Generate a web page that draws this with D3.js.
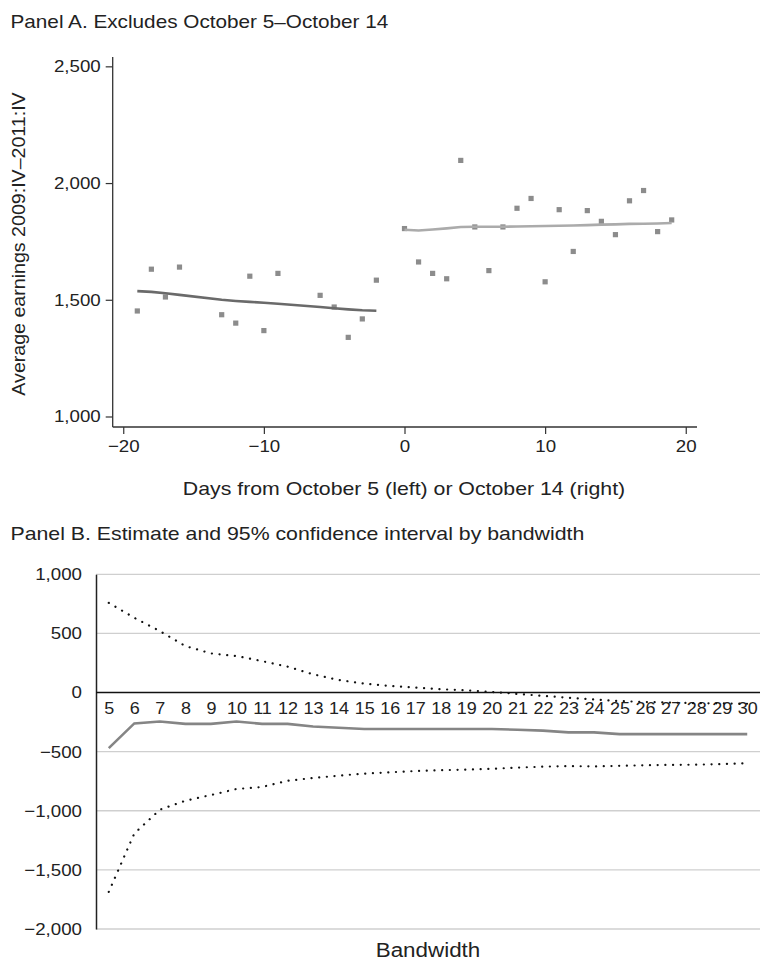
<!DOCTYPE html>
<html><head><meta charset="utf-8">
<script src="https://cdn.jsdelivr.net/npm/d3@7"></script>
<style>
body{margin:0;background:#fff;}
svg{display:block;font-family:"Liberation Sans",Arial,Helvetica,sans-serif;}
</style></head>
<body><svg id="c" width="765" height="973"></svg>
<script>
// ---- Panel A data ----
const leftDays = [-19,-18,-17,-16,-13,-12,-11,-10,-9,-6,-5,-4,-3,-2];
const leftEarnings = [1452,1631,1512,1640,1436,1400,1601,1368,1613,1519,1469,1339,1418,1584];
const leftFit = [1537,1534,1528,1521,1500,1495,1491,1487,1483,1469,1464,1459,1455,1453];
const rightDays = [0,1,2,3,4,5,6,7,8,9,10,11,12,13,14,15,16,17,18,19];
const rightEarnings = [1805,1662,1613,1590,2097,1812,1625,1812,1892,1934,1577,1886,1707,1882,1836,1779,1924,1968,1792,1842];
const rightFit = [1800,1797,1801,1806,1812,1813,1813,1813,1814,1815,1816,1817,1818,1820,1822,1823,1825,1826,1827,1829];
const panelAYTicks = [1000,1500,2000,2500];
const panelAXTicks = [-20,-10,0,10,20];

// ---- Panel B data ----
const bandwidths = [5,6,7,8,9,10,11,12,13,14,15,16,17,18,19,20,21,22,23,24,25,26,27,28,29,30];
const estimate = [-470,-261,-245,-265,-265,-245,-265,-265,-287,-298,-309,-309,-309,-309,-309,-309,-315,-322,-337,-337,-352,-352,-352,-352,-352,-352];
const upperCI = [759,632,520,393,331,309,266,219,154,106,76,56,42,28,19,5,-12,-28,-44,-58,-72,-80,-85,-90,-92,-95];
const lowerCI = [-1686,-1192,-991,-915,-867,-816,-799,-746,-723,-703,-686,-675,-664,-657,-652,-645,-635,-627,-622,-625,-620,-615,-612,-610,-605,-598];
const panelBYTicks = [-2000,-1500,-1000,-500,0,500,1000];

const fmt = v => (v<0?"\u2212":"") + d3.format(",")(Math.abs(v));
const svg = d3.select("#c");
const txt = "#222";
const FONT = "Liberation Sans,Arial,Helvetica,sans-serif";

// widen glyphs horizontally (reference face is wider than Arial)
function stretch(sel,k){
  sel.each(function(){
    const w = this.getComputedTextLength();
    this.setAttribute("textLength", (w*k).toFixed(2));
    this.setAttribute("lengthAdjust","spacingAndGlyphs");
  });
}

// ================= Panel A =================
svg.append("text").attr("x",10.5).attr("y",28).attr("font-size",18.5).attr("fill",txt)
  .text("Panel A. Excludes October 5\u2013October 14").call(stretch,1.12);

const xA = d3.scaleLinear().domain([-20.75,20.8]).range([112.7,697]);
const yA = d3.scaleLinear().domain([955,2540]).range([427,57]);

const gA = svg.append("g");
const axA = gA.append("g").attr("transform","translate(112.7,0)")
  .call(d3.axisLeft(yA).tickValues(panelAYTicks).tickFormat(fmt).tickSize(7).tickPadding(5));
const axAx = gA.append("g").attr("transform","translate(0,427)")
  .call(d3.axisBottom(xA).tickValues(panelAXTicks).tickFormat(fmt).tickSize(7).tickPadding(6));
[axA,axAx].forEach(a=>{
  a.select(".domain").attr("stroke","#333").attr("stroke-width",1.3);
  a.selectAll(".tick line").attr("stroke","#333").attr("stroke-width",1.2);
  a.selectAll("text").attr("font-size",17).attr("fill",txt).attr("font-family",FONT).call(stretch,1.1);
});
axA.select(".domain").attr("d",`M0,${yA.range()[1]}V${yA.range()[0]}`);
axAx.select(".domain").attr("d",`M${xA.range()[0]},0H${xA.range()[1]}`);

gA.append("text").attr("transform","translate(25,244) rotate(-90)").attr("text-anchor","middle")
  .attr("font-size",17.5).attr("fill",txt).text("Average earnings 2009:IV\u20132011:IV").call(stretch,1.12);
gA.append("text").attr("x",404).attr("y",495).attr("text-anchor","middle")
  .attr("font-size",19).attr("fill",txt).text("Days from October 5 (left) or October 14 (right)").call(stretch,1.12);

const pts = leftDays.map((d,i)=>({d,v:leftEarnings[i]})).concat(rightDays.map((d,i)=>({d,v:rightEarnings[i]})));
gA.selectAll("rect.pt").data(pts).enter().append("rect").attr("class","pt")
  .attr("x",p=>xA(p.d)-2.6).attr("y",p=>yA(p.v)-2.6).attr("width",5.2).attr("height",5.2)
  .attr("fill","#8c8c8c");

const lineA = d3.line().x(p=>xA(p[0])).y(p=>yA(p[1]));
gA.append("path").datum(leftDays.map((d,i)=>[d,leftFit[i]])).attr("d",lineA)
  .attr("fill","none").attr("stroke","#6a6a6a").attr("stroke-width",2.6);
gA.append("path").datum(rightDays.map((d,i)=>[d,rightFit[i]])).attr("d",lineA)
  .attr("fill","none").attr("stroke","#ababab").attr("stroke-width",2.6);

// ================= Panel B =================
svg.append("text").attr("x",10.5).attr("y",540).attr("font-size",19).attr("fill",txt)
  .text("Panel B. Estimate and 95% confidence interval by bandwidth").call(stretch,1.12);

const xB = d3.scalePoint().domain(bandwidths).range([96,760]).padding(0.5);
const yB = d3.scaleLinear().domain([-2000,1000]).range([929,574.3]);
const gB = svg.append("g");

// gridlines
gB.selectAll("line.grid").data(panelBYTicks.filter(t=>t!==0)).enter().append("line").attr("class","grid")
  .attr("x1",96).attr("x2",760).attr("y1",t=>yB(t)).attr("y2",t=>yB(t))
  .attr("stroke","#cfcfcf").attr("stroke-width",1.3);

const axB = gB.append("g").attr("transform","translate(96,0)")
  .call(d3.axisLeft(yB).tickValues(panelBYTicks).tickFormat(fmt).tickSize(0).tickPadding(14));
axB.select(".domain").attr("stroke","#222").attr("stroke-width",1.5);
axB.selectAll("text").attr("font-size",17).attr("fill",txt).attr("font-family",FONT).call(stretch,1.1);

// zero line category axis
const axBx = gB.append("g").attr("transform",`translate(0,${yB(0)})`)
  .call(d3.axisBottom(xB).tickSize(0).tickPadding(9));
axBx.select(".domain").attr("d","M96,0H760").attr("stroke","#111").attr("stroke-width",1.5);
axBx.selectAll("text").attr("font-size",17.3).attr("fill",txt).attr("font-family",FONT).call(stretch,1.04);

const lineB = d3.line().x((d,i)=>xB(bandwidths[i])).y(d=>yB(d));
gB.append("path").datum(estimate).attr("d",lineB).attr("fill","none")
  .attr("stroke","#858585").attr("stroke-width",2.6);
[upperCI,lowerCI].forEach(arr=>{
  gB.append("path").datum(arr).attr("d",lineB).attr("fill","none")
    .attr("stroke","#111").attr("stroke-width",2.2).attr("stroke-linecap","round")
    .attr("stroke-dasharray","0.1 7.6");
});

gB.append("text").attr("x",428).attr("y",957).attr("text-anchor","middle")
  .attr("font-size",20).attr("fill",txt).text("Bandwidth").call(stretch,1.12);
</script></body></html>
